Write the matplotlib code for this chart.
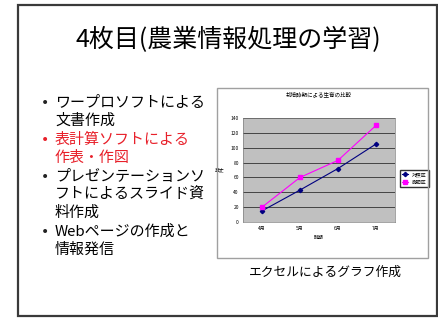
import matplotlib
matplotlib.use("Agg")
import matplotlib.pyplot as plt
from matplotlib.patches import Rectangle

plt.rcParams['font.family'] = ['Noto Sans CJK JP', 'DejaVu Sans']

W, H = 439, 318

title = "4枚目(農業情報処理の学習)"
bullets = [
    (["ワープロソフトによる", "文書作成"], "black"),
    (["表計算ソフトによる", "作表・作図"], "#e8202a"),
    (["プレゼンテーションソ", "フトによるスライド資", "料作成"], "black"),
    (["Webページの作成と", "情報発信"], "black"),
]
caption = "エクセルによるグラフ作成"

months = ["4月", "5月", "6月", "7月"]
series_a = [15, 43, 72, 105]
series_b = [20, 60, 83, 130]
names = ["対照区", "施肥区"]
chart_title = "栽培時期による生育の比較"


def fx(px):
    return px / W


def fy(py):
    return 1 - py / H


fig = plt.figure(figsize=(W / 100, H / 100), dpi=100)
fig.patch.set_facecolor("white")

# slide frame
fig.patches.append(Rectangle((fx(18), fy(316)), fx(437) - fx(18), fy(5) - fy(316),
                             transform=fig.transFigure, fill=False,
                             edgecolor="#3a3a3a", lw=1.6))
fig.text(fx(228), fy(40), title, ha="center", va="center", fontsize=18)

# bullet list
y = 103
for lines, col in bullets:
    fig.text(fx(45), fy(y), "•", ha="center", va="center", fontsize=10,
             color="#222222" if col == "black" else col, family="DejaVu Sans")
    for ln in lines:
        fig.text(fx(55), fy(y), ln, ha="left", va="center", fontsize=10.8, color=col)
        y += 18
    y += 1

# chart image frame
fig.patches.append(Rectangle((fx(217), fy(258)), fx(428) - fx(217), fy(88) - fy(258),
                             transform=fig.transFigure, fill=False,
                             edgecolor="#a0a0a0", lw=1))
fig.text(fx(325), fy(272), caption, ha="center", va="center", fontsize=9.2)

ax = fig.add_axes([fx(243), fy(222), fx(395) - fx(243), fy(118) - fy(222)])
ax.set_facecolor("#c0c0c0")
x = [i + 0.5 for i in range(len(months))]
ax.plot(x, series_a, color="#000080", marker="D", ms=2.2, lw=0.8, label=names[0])
ax.plot(x, series_b, color="#ff00ff", marker="s", ms=2.2, lw=0.8, label=names[1])
ax.set_xlim(0, 4)
ax.set_ylim(0, 140)
ax.set_yticks(range(0, 141, 20))
ax.set_xticks(x)
ax.set_xticklabels(months)
ax.tick_params(labelsize=3.5, length=0, pad=3)
ax.grid(axis="y", color="#303030", lw=0.6)
ax.set_axisbelow(True)
for s in ax.spines.values():
    s.set_color("#808080")
    s.set_linewidth(0.5)
ax.set_ylabel("草丈", fontsize=3.5, rotation=0, labelpad=8, va="center")
ax.set_xlabel("時期", fontsize=3.5, labelpad=3)
ax.set_title(chart_title, fontsize=4, pad=16)
ax.legend(loc="center left", bbox_to_anchor=(1.02, 0.42), fontsize=3.5,
          frameon=True, fancybox=False, edgecolor="black", borderpad=0.4,
          handlelength=1.2, labelspacing=0.6)

fig.savefig("out.png", dpi=100)
